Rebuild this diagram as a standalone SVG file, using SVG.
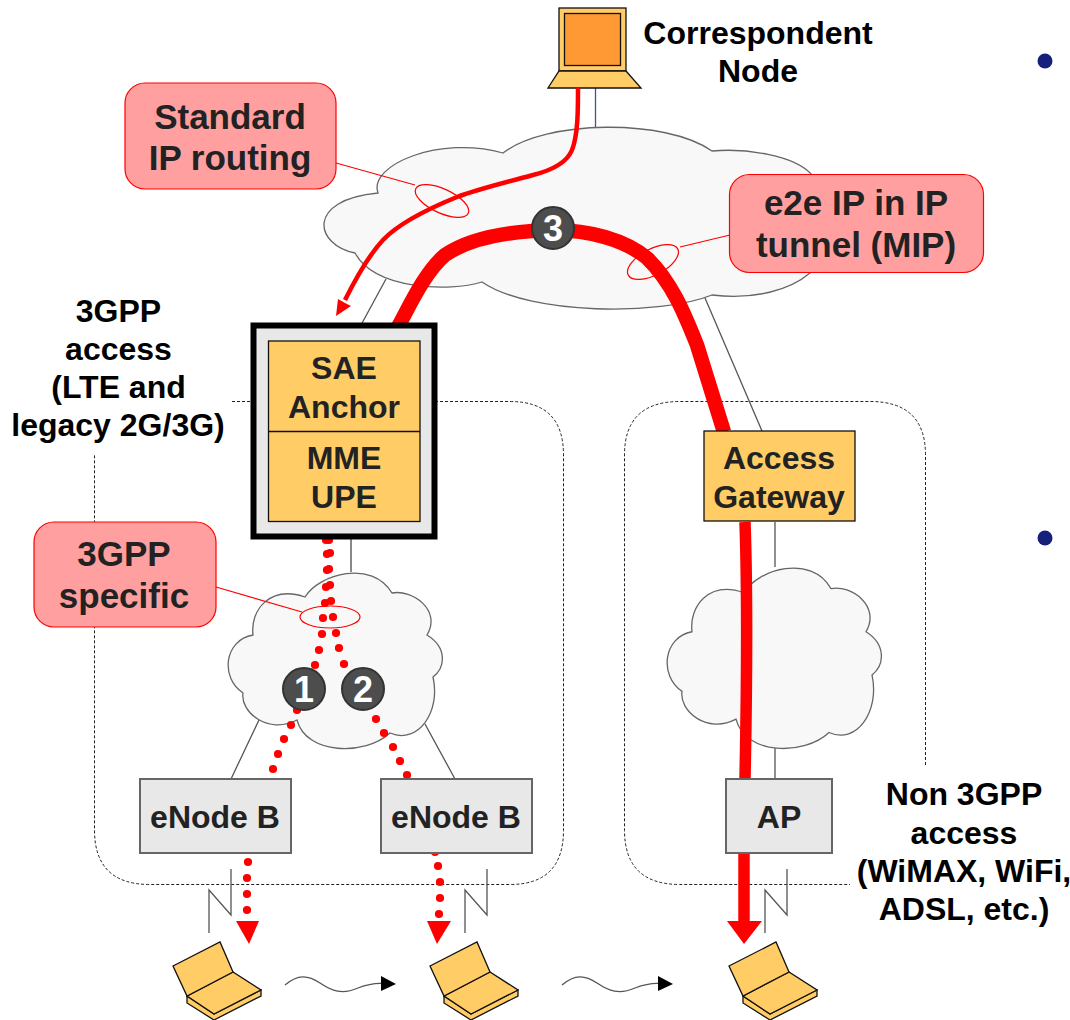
<svg xmlns="http://www.w3.org/2000/svg" xmlns:xlink="http://www.w3.org/1999/xlink" width="1070" height="1020" viewBox="0 0 1070 1020">
<style>
text{font-family:"Liberation Sans",Arial,sans-serif;font-weight:bold;font-size:32px;text-anchor:middle;fill:#000}
.dark{fill:#222}
.call{font-size:35px;fill:#222}
.cloud{fill:#f8f8f8;stroke:#666;stroke-width:1.3}
.lnk{fill:none;stroke:#555;stroke-width:1.3}
.dot{fill:none;stroke:#222;stroke-width:1;stroke-dasharray:3 2}
.yel{fill:#ffcc66;stroke:#111;stroke-width:1.3}
.gray{fill:#e8e8e8;stroke:#666;stroke-width:2}
.callout{fill:#ff9f9f;stroke:#f00;stroke-width:1.2}
.ring{fill:none;stroke:#f00;stroke-width:1.2}
.pt{fill:none;stroke:#f00;stroke-width:8.2;stroke-linecap:round}
.badge{fill:#4d4d4d;stroke:#333;stroke-width:2}
.num{fill:#fff;font-size:36px}
.bul{fill:#14207a}
</style>
<defs>
<path id="smallcloud" class="cloud" d="M305 597C319 574 372 559 392 593C412 589 442 610 427 635C448 648 445 668 433 677C441 712 418 745 390 733C365 756 306 755 297 720C268 735 240 712 243 693C220 678 224 640 253 635C250 610 270 585 305 597Z"/>
<g id="laptop">
<path class="yel" d="M187 996V1003L214 1020L261 996V990L214 1014Z"/>
<path class="yel" d="M187 996L233 972L261 990L214 1014Z"/>
<path class="yel" d="M173 966L220 942L233 972L187 996Z"/>
</g>
<path id="zig" class="lnk" d="M209 933V890L231 915V869"/>
<g id="wave"><path class="lnk" d="M285 985C298 974 308 975 320 983C332 991 342 995 358 988C366 985 372 983 382 983.500"/><path fill="#000" d="M381 976L396 984L381 991Z"/></g>
</defs>

<circle class="bul" cx="1045" cy="61" r="7.500"/>
<circle class="bul" cx="1045" cy="538" r="7.500"/>

<g id="connectors">
<path class="dot" d="M232 401.500H250M400 401.500H510Q563.500 401.500 563.500 455V830Q563.500 884.500 510 884.500H150Q94.500 884.500 94.500 830V455"/>
<path class="dot" d="M925.500 765V455Q925.500 401.500 870 401.500H680Q624.500 401.500 624.500 455V830Q624.500 884.500 680 884.500H850"/>
<path class="lnk" style="stroke:#44509a" d="M595.500 88V128"/>
<path class="lnk" d="M386 279L361 325M705 298L762 431M259 720L231 779M425 724L455 779M775 522V567M775 745V779"/>
<path class="lnk" style="stroke:#888;stroke-width:2" d="M351 538V572"/>
<use xlink:href="#zig" href="#zig"/>
<use xlink:href="#zig" href="#zig" transform="translate(256 0)"/>
<use xlink:href="#zig" href="#zig" transform="translate(556 0)"/>
<use xlink:href="#wave" href="#wave"/>
<use xlink:href="#wave" href="#wave" transform="translate(277 0)"/>
</g>

<g id="cloud-core"><path class="cloud" d="M503 153C545 120 665 118 712 151C745 148 795 155 812 175C850 220 830 250 810 273C790 290 755 300 712 295C660 316 530 315 482 282C450 292 375 290 355 253C315 245 305 200 378 193C368 165 440 135 503 153Z"/></g>
<g id="cloud-3gpp"><use xlink:href="#smallcloud" href="#smallcloud"/></g>
<g id="cloud-non3gpp"><use xlink:href="#smallcloud" href="#smallcloud" transform="translate(439 -5) translate(0 572) scale(1 1.028) translate(0 -572)"/></g>

<g id="correspondent-node">
<rect x="559" y="8" width="67" height="63" class="yel"/>
<rect x="564.500" y="13.500" width="56" height="52" fill="#ff9933" stroke="#111" stroke-width="1.300"/>
<path class="yel" d="M559 71H626L641 88H548Z"/>
<text x="758" y="44">Correspondent</text>
<text x="758" y="82">Node</text>
</g>

<g id="red-routes">
<path fill="none" stroke="#f00" stroke-width="4.500" d="M578 88C578 110 578 135 572 150C566 165 545 172 533 175C515 180 478 189 457 197C430 208 400 222 383 240C368 256 356 278 345 300"/>
<path fill="#f00" d="M351 306L336 316L338 299L345 303Z"/>
<path fill="none" stroke="#f00" stroke-width="14.500" d="M398 327C410 305 425 272 445 255C470 238 510 231 553 230C590 230 625 240 647 258C672 282 685 315 697 345L724 432"/>
<path fill="none" stroke="#f00" stroke-width="11.500" d="M745 522C747 580 747 680 745 779"/>
<path fill="none" stroke="#f00" stroke-width="11.500" d="M744 853V923"/>
<path fill="#f00" d="M727 921H762L744 944Z"/>
<path class="pt" d="M326 540h0M327 554h0M327 570h0M326 587h0M325 603h0M323 618h0M322 634h0M319 650h0M315 665h0M297 710h0M291 725h0M284 739h0M278 754h0M273 769h0"/>
<path class="pt" d="M329 540h0M330 553h0M329 569h0M330 585h0M331 601h0M333 617h0M336 633h0M339 648h0M344 664h0M376 719h0M384 733h0M393 747h0M400 761h0M407 775h0"/>
<path class="pt" d="M248 862h0M247 878h0M247 894h0M247 910h0"/>
<path class="pt" d="M435 852h0M438 866h0M440 882h0M440 898h0M439 914h0"/>
<path fill="#f00" d="M236 921H259L249 944Z"/>
<path fill="#f00" d="M427 921H451L437 944Z"/>
</g>

<g id="sae-anchor">
<rect x="253.500" y="325.500" width="181" height="211" fill="#e8e8e8" stroke="#000" stroke-width="6"/>
<rect x="268.500" y="341" width="151.500" height="180.500" class="yel"/>
<path d="M268.500 431.500H420" stroke="#111" stroke-width="1.300"/>
<text class="dark" x="344" y="379">SAE</text>
<text class="dark" x="344" y="417.500">Anchor</text>
<text class="dark" x="344" y="469">MME</text>
<text class="dark" x="344" y="508">UPE</text>
</g>
<g id="access-gateway">
<rect x="704" y="431" width="151" height="90" class="yel"/>
<text class="dark" x="779" y="469">Access</text>
<text class="dark" x="779" y="508">Gateway</text>
</g>
<g id="enodeb-1"><rect x="140" y="779" width="151" height="74" class="gray"/><text class="dark" x="215" y="828">eNode B</text></g>
<g id="enodeb-2"><rect x="381" y="779" width="151" height="74" class="gray"/><text class="dark" x="456" y="828">eNode B</text></g>
<g id="ap"><rect x="726" y="779" width="106" height="74" class="gray"/><text class="dark" x="779" y="828">AP</text></g>

<g id="label-standard">
<path class="ring" d="M336 163L415 185"/>
<ellipse class="ring" cx="442" cy="201" rx="29" ry="12" transform="rotate(25 442 201)"/>
<rect x="125" y="83" width="211" height="106" rx="20" class="callout"/>
<text class="call" x="230" y="129">Standard</text>
<text class="call" x="230" y="170">IP routing</text>
</g>
<g id="label-e2e">
<path class="ring" d="M680 247L730 235"/>
<ellipse class="ring" cx="653" cy="262" rx="28" ry="13" transform="rotate(-28 653 262)"/>
<rect x="729.500" y="174.500" width="254" height="98" rx="20" class="callout"/>
<text class="call" x="856" y="215">e2e IP in IP</text>
<text class="call" x="856" y="257">tunnel (MIP)</text>
</g>
<g id="label-3gpp-specific">
<path class="ring" d="M216 587L302 612"/>
<ellipse class="ring" cx="330" cy="617" rx="30" ry="11"/>
<rect x="34" y="522" width="182" height="105" rx="20" class="callout"/>
<text class="call" x="124" y="566">3GPP</text>
<text class="call" x="124" y="608">specific</text>
</g>

<g id="badge-1"><circle class="badge" cx="304" cy="689" r="21"/><text class="num" x="304" y="702">1</text></g>
<g id="badge-2"><circle class="badge" cx="363" cy="689" r="21"/><text class="num" x="363" y="702">2</text></g>
<g id="badge-3"><circle class="badge" cx="553" cy="228" r="21"/><text class="num" x="553" y="241">3</text></g>

<g id="label-3gpp-access">
<text x="118.500" y="321.500">3GPP</text>
<text x="118.500" y="359.500">access</text>
<text x="118.500" y="398">(LTE and</text>
<text x="118" y="435.500">legacy 2G/3G)</text>
</g>
<g id="label-non3gpp-access">
<text x="964" y="805">Non 3GPP</text>
<text x="964" y="844">access</text>
<text x="964" y="882">(WiMAX, WiFi,</text>
<text x="964" y="920">ADSL, etc.)</text>
</g>

<g id="ue-1"><use xlink:href="#laptop" href="#laptop"/></g>
<g id="ue-2"><use xlink:href="#laptop" href="#laptop" transform="translate(257 0)"/></g>
<g id="ue-3"><use xlink:href="#laptop" href="#laptop" transform="translate(556 0)"/></g>
</svg>
